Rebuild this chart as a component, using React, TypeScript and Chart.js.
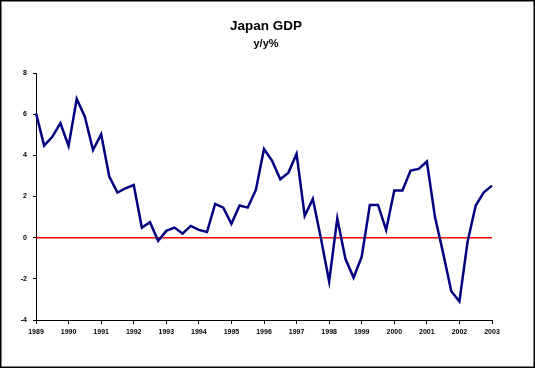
import React, { useEffect, useRef } from 'react';
import { Chart, registerables } from 'chart.js';

Chart.register(...registerables);

// Quarterly categories: 1989 Q1 .. 2003 Q1
const years = [1989, 1990, 1991, 1992, 1993, 1994, 1995, 1996, 1997, 1998, 1999, 2000, 2001, 2002, 2003];
const quarterNames = ['Q1', 'Q2', 'Q3', 'Q4'];

// Japan GDP, y/y %
const gdpValues = [
  6.05, 4.47, 4.9, 5.56,
  4.46, 6.74, 5.88, 4.26,
  5.02, 2.97, 2.19, 2.4,
  2.56, 0.49, 0.75, -0.16,
  0.33, 0.49, 0.2, 0.57,
  0.38, 0.28, 1.64, 1.46,
  0.67, 1.56, 1.46, 2.32,
  4.31, 3.73, 2.84, 3.16,
  4.07, 1.06, 1.88, -0.05,
  -2.13, 0.94, -1.03, -1.94,
  -0.92, 1.59, 1.59, 0.38,
  2.29, 2.29, 3.26, 3.34,
  3.7, 1.0, -0.75, -2.6,
  -3.1, -0.2, 1.56, 2.2,
  2.53,
];

const yTicks = { min: -4, max: 8, step: 2 };
const zeroLineValue = 0;
const titleLines = ['Japan GDP', 'y/y%'];

const quarters: string[] = [];
years.forEach((y) => quarterNames.forEach((q) => quarters.push(`${y} ${q}`)));
const labels = quarters.slice(0, gdpValues.length);

const FONT = "'Liberation Sans', Arial, sans-serif";

const decorPlugin = {
  id: 'decor',
  beforeDraw(chart: any) {
    const { ctx, width, height } = chart;
    ctx.save();
    ctx.fillStyle = '#ffffff';
    ctx.fillRect(0, 0, width, height);
    ctx.restore();
  },
  beforeDatasetsDraw(chart: any) {
    const { ctx, chartArea, scales } = chart;
    const y = scales.y.getPixelForValue(zeroLineValue);
    ctx.save();
    ctx.strokeStyle = '#ff0000';
    ctx.lineWidth = 1.5;
    ctx.beginPath();
    ctx.moveTo(chartArea.left, y);
    ctx.lineTo(chartArea.right, y);
    ctx.stroke();
    ctx.restore();
  },
  afterDraw(chart: any) {
    const { ctx, width, height } = chart;
    ctx.save();
    ctx.fillStyle = '#000';
    ctx.textAlign = 'center';
    ctx.textBaseline = 'alphabetic';
    ctx.font = `bold 13.5px ${FONT}`;
    ctx.fillText(titleLines[0], 266, 30);
    ctx.font = `bold 11px ${FONT}`;
    ctx.fillText(titleLines[1], 266, 47);
    ctx.strokeStyle = '#000';
    ctx.lineWidth = 1.5;
    ctx.strokeRect(0.75, 0.75, width - 1.5, height - 1.5);
    ctx.restore();
  },
};

export default function App() {
  const canvasRef = useRef<HTMLCanvasElement | null>(null);

  useEffect(() => {
    document.body.style.margin = '0';
    const canvas = canvasRef.current;
    if (!canvas) return;
    const chart = new Chart(canvas, {
      type: 'line',
      data: {
        labels,
        datasets: [
          {
            label: 'Japan GDP y/y%',
            data: gdpValues,
            borderColor: '#000080',
            borderWidth: 2.5,
            pointRadius: 0,
            tension: 0,
            fill: false,
          },
        ],
      },
      options: {
        responsive: false,
        animation: false,
        devicePixelRatio: 1,
        layout: { padding: { top: 73, right: 43, bottom: 28, left: 0 } },
        plugins: {
          legend: { display: false },
          title: { display: false },
          tooltip: { enabled: false },
        },
        scales: {
          x: {
            type: 'category',
            offset: false,
            grid: {
              drawOnChartArea: false,
              drawTicks: true,
              tickLength: 4,
              color: (c: any) => (c.index % 4 === 0 ? '#000' : 'rgba(0,0,0,0)'),
              tickColor: (c: any) => (c.index % 4 === 0 ? '#000' : 'rgba(0,0,0,0)'),
            },
            border: { display: true, color: '#000', width: 1 },
            ticks: {
              autoSkip: false,
              maxRotation: 0,
              minRotation: 0,
              padding: 4,
              color: '#000',
              font: { family: FONT, size: 7, weight: 'bold' },
              callback: function (this: any, value: any, index: number) {
                if (index % 4 !== 0) return '';
                return String(this.getLabelForValue(value)).split(' ')[0];
              },
            },
            afterFit: (scale: any) => {
              scale.height = 20;
            },
          },
          y: {
            min: yTicks.min,
            max: yTicks.max,
            grid: {
              drawOnChartArea: false,
              drawTicks: true,
              tickLength: 3,
              color: '#000',
            },
            border: { display: true, color: '#000', width: 1 },
            ticks: {
              stepSize: yTicks.step,
              padding: 6,
              color: '#000',
              font: { family: FONT, size: 7, weight: 'bold' },
            },
            afterFit: (scale: any) => {
              scale.width = 36;
            },
          },
        },
      },
      plugins: [decorPlugin],
    });
    return () => chart.destroy();
  }, []);

  return (
    <div style={{ width: 535, height: 368 }}>
      <canvas ref={canvasRef} width={535} height={368} style={{ display: 'block' }} />
    </div>
  );
}
